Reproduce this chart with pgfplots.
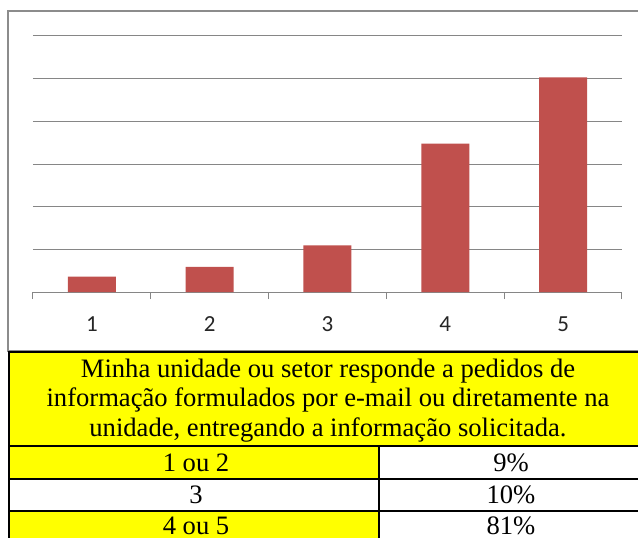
\documentclass[border=0pt]{standalone}
\usepackage{pgfplots}
\pgfplotsset{compat=1.18}
\usepackage{fontspec}
\setmainfont{Liberation Serif}
\newfontfamily\calibri{Carlito}
\definecolor{barred}{RGB}{192,80,77}
\definecolor{gridgray}{RGB}{134,134,134}
\definecolor{framegray}{RGB}{140,140,140}
\definecolor{tabyellow}{RGB}{255,255,0}
\begin{document}
\begin{tikzpicture}[x=0.5pt,y=0.5pt]
\useasboundingbox (0,0) rectangle (638,537);
\begin{scope}
\clip (0,0) rectangle (638,537);
% chart frame
\fill[white] (0,0) rectangle (638,537);
\draw[framegray,line width=0.75pt] (8,186) rectangle (660,526);
% table
\fill[tabyellow] (9,91) rectangle (660,185);
\fill[tabyellow] (9,58) rectangle (379,91);
\fill[tabyellow] (9,-10) rectangle (379,26);
\draw[black,line width=1pt] (9,-10) rectangle (648,185);
\draw[black,line width=1pt] (9,91) -- (648,91);
\draw[black,line width=1pt] (9,58) -- (648,58);
\draw[black,line width=1pt] (9,26) -- (648,26);
\draw[black,line width=1pt] (379,91) -- (379,-10);
\begin{scope}[every node/.style={font=\fontsize{13.3}{15}\selectfont, inner sep=0pt, anchor=base}]
\node at (328,160) {Minha unidade ou setor responde a pedidos de};
\node at (328,131) {informação formulados por e-mail ou diretamente na};
\node at (328,101) {unidade, entregando a informação solicitada.};
\node at (196,66) {1 ou 2};
\node at (511,66) {9\%};
\node at (196,34) {3};
\node at (511,34) {10\%};
\node at (196,3) {4 ou 5};
\node at (511,3) {81\%};
\end{scope}
\end{scope}
\begin{axis}[
  at={(16.5pt,122.5pt)}, anchor=south west,
  scale only axis, width=294.5pt, height=128pt,
  xmin=0.5, xmax=5.5, ymin=0, ymax=60,
  axis x line*=bottom, axis y line*=left,
  y axis line style={draw=none},
  x axis line style={draw=gridgray, line width=0.5pt, -},
  ytick={10,20,30,40,50,60}, yticklabels={},
  ytick style={draw=none},
  ymajorgrids, grid style={draw=gridgray, line width=0.5pt},
  xtick={1,2,3,4,5}, xticklabels={1,2,3,4,5},
  major x tick style={draw=none},
  minor xtick={0.5,1.5,2.5,3.5,4.5,5.5},
  minor x tick style={draw=gridgray, line width=0.5pt},
  minor tick length=3.5pt, tick align=outside,
  xticklabel style={font=\calibri\fontsize{11.5}{12}\selectfont, text=black!85, yshift=-4.5pt},
  clip=false,
]
\addplot[ybar, bar width=24pt, bar shift=0pt, fill=barred, draw=none]
  coordinates {(1,3.6) (2,5.9) (3,10.9) (4,34.8) (5,50.3)};
\end{axis}
\end{tikzpicture}
\end{document}
